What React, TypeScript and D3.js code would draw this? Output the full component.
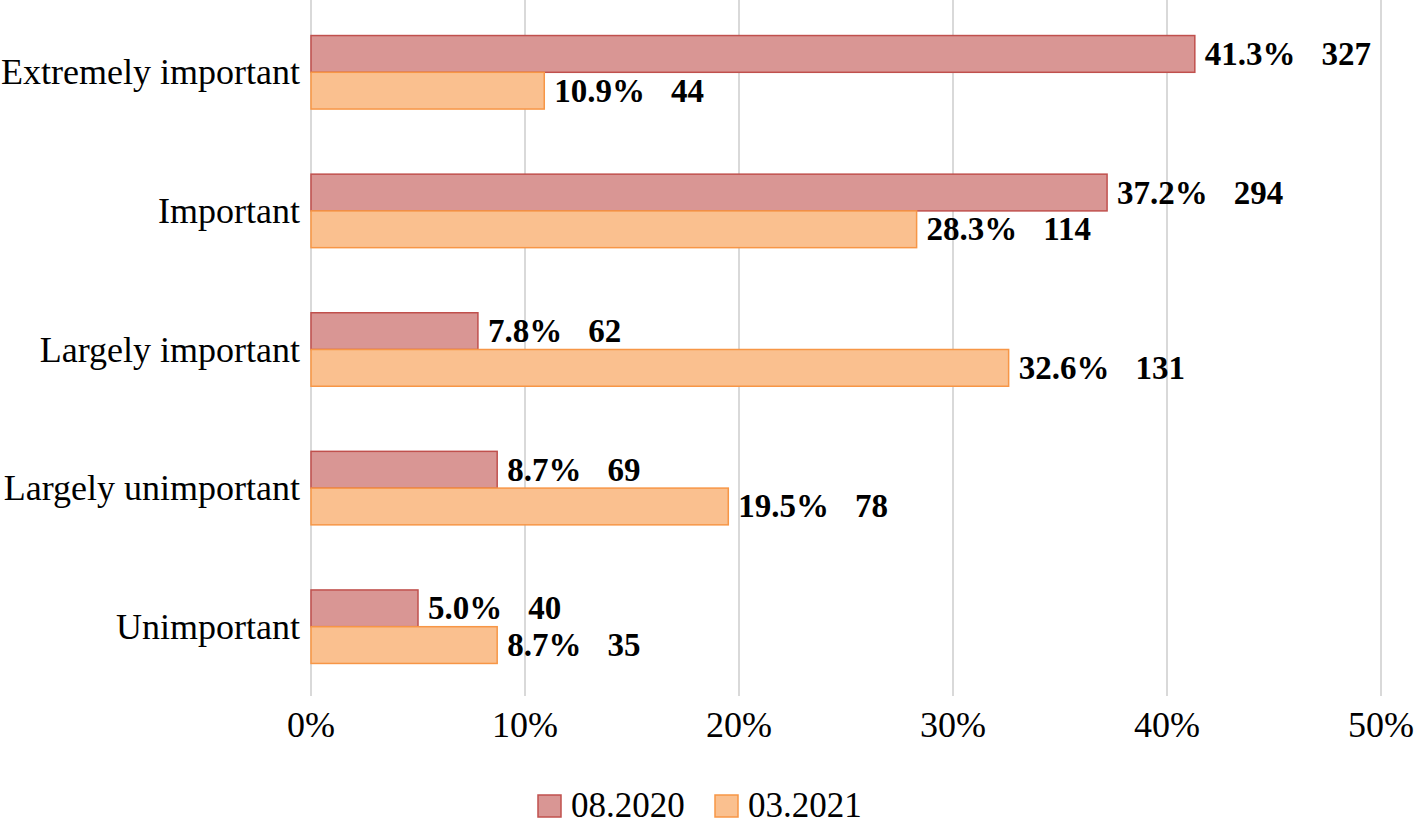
import React from "react";
import * as d3 from "d3";

const categories = ["Extremely important", "Important", "Largely important", "Largely unimportant", "Unimportant"];
const seriesNames = ["08.2020", "03.2021"];
const pct2020 = [41.3, 37.2, 7.8, 8.7, 5.0];
const pct2021 = [10.9, 28.3, 32.6, 19.5, 8.7];
const count2020 = [327, 294, 62, 69, 40];
const count2021 = [44, 114, 131, 78, 35];
const xTicks = [0, 10, 20, 30, 40, 50];

const fills = ["#d99694", "#fac08f"];
const strokes = ["#c0504d", "#f79646"];

const W = 1416, H = 826;
const FONT = "'Liberation Serif', 'Times New Roman', serif";

export default function App() {
  const x = d3.scaleLinear().domain([0, 50]).range([311, 1381]);
  const y = d3.scaleBand<string>().domain(categories).range([3, 696]).paddingInner(0).paddingOuter(0);
  const groupH = 73.5;
  const y1 = d3.scaleBand<string>().domain(seriesNames).range([0, groupH]);
  const vals = [pct2020, pct2021];
  const counts = [count2020, count2021];

  return (
    <svg width={W} height={H} style={{ position: "absolute", left: 0, top: 0, background: "#fff" }} fontFamily={FONT}>
      {xTicks.map((t) => (
        <line key={"g" + t} x1={x(t)} x2={x(t)} y1={0} y2={696} stroke="#d9d9d9" strokeWidth={2} />
      ))}
      {xTicks.map((t) => (
        <text key={"t" + t} x={x(t)} y={737} textAnchor="middle" fontSize={36} fill="#000">{t}%</text>
      ))}
      {categories.map((c, i) => {
        const cy = (y(c) as number) + y.bandwidth() / 2;
        return (
          <g key={c}>
            <text x={300} y={cy + 12} textAnchor="end" fontSize={36} fill="#000">{c}</text>
            {seriesNames.map((s, k) => {
              const top = cy - groupH / 2 + (y1(s) as number);
              const v = vals[k][i];
              return (
                <g key={s}>
                  <rect x={x(0)} y={top} width={x(v) - x(0)} height={y1.bandwidth()} fill={fills[k]} stroke={strokes[k]} strokeWidth={1.5} />
                  <text x={x(v) + 10} y={top + y1.bandwidth() / 2 + 11} fontSize={33} fontWeight="bold" fill="#000">
                    {v.toFixed(1)}%<tspan dx={26}>{counts[k][i]}</tspan>
                  </text>
                </g>
              );
            })}
          </g>
        );
      })}
      {seriesNames.map((s, k) => {
        const lx = [538, 715][k];
        return (
          <g key={"l" + s}>
            <rect x={lx} y={795} width={23} height={22} fill={fills[k]} stroke={strokes[k]} strokeWidth={1.5} />
            <text x={lx + 33} y={817} fontSize={35} fill="#000">{s}</text>
          </g>
        );
      })}
    </svg>
  );
}
